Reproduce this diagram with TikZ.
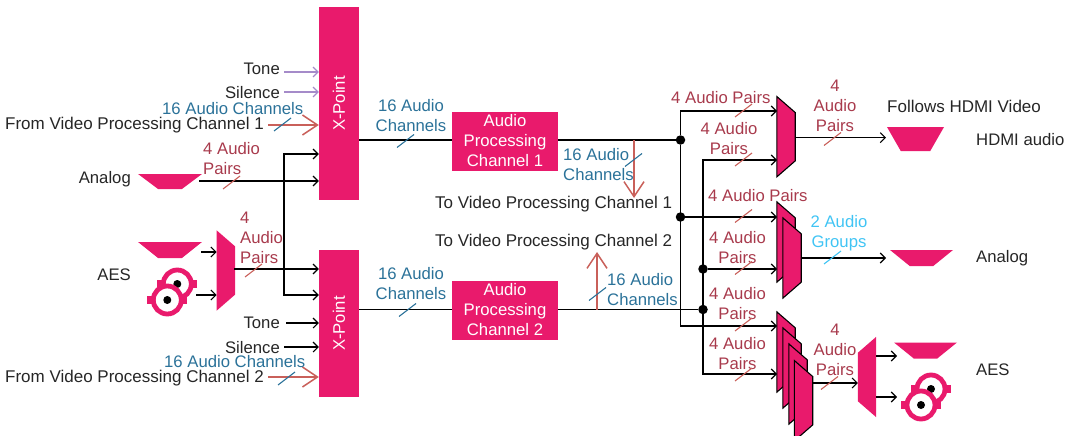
\documentclass[tikz,border=0pt]{standalone}
\usepackage{fontspec}
\setmainfont{Liberation Sans}
\usetikzlibrary{arrows.meta,shapes.geometric,positioning}
\definecolor{muxpink}{HTML}{E91A6C}
\definecolor{pairred}{HTML}{A83A4C}
\definecolor{slashred}{HTML}{C9605A}
\definecolor{chanblue}{HTML}{2B7299}
\definecolor{groupcyan}{HTML}{40C4F4}
\definecolor{tonepurple}{HTML}{A58BC9}
\tikzset{
  every node/.style={font=\fontsize{16.7}{20}\selectfont, text=black!85, inner sep=0pt},
  longlabel/.style={font=\fontsize{17}{20}\selectfont},
  xpointbox/.style={fill=muxpink, text=white, minimum width=40},
  procbox/.style={fill=muxpink, text=white, minimum width=106, minimum height=59, align=center},
  muxbox/.style={minimum width=18, minimum height=80},
  jackshape/.style={fill=muxpink, trapezium, shape border rotate=180, trapezium stretches=true, inner sep=1pt},
  dotmark/.style={circle, fill=black, minimum size=9.5},
  redlabel/.style={text=pairred, align=left},
  bluelabel/.style={text=chanblue, align=left},
  wirearrow/.style={draw=black, line width=1.1pt, -{Straight Barb[length=5pt,width=10pt]}},
  purplearrow/.style={draw=tonepurple, line width=1.1pt, -{Straight Barb[length=5pt,width=10pt]}},
  redarrow/.style={draw=slashred, line width=1.5pt, -{Straight Barb[length=15pt,width=20pt]}},
  pics/xlrhalf/.style={code={
    \fill[muxpink] (-20,-4) rectangle (20,4);
    \filldraw[draw=muxpink, fill=white, line width=4.8pt] (0,0) circle (14);
    \fill[black] (0,0) circle (4);
  }},
  pics/xlrpair/.style={code={
    \pic at (5,-8) {xlrhalf};
    \pic at (-5,8) {xlrhalf};
  }}
}
\newcommand{\muxshape}[1]{\filldraw[draw=black, fill=muxpink, line width=1.1pt] (#1.north west) -- ([yshift=-16]#1.north east) -- ([yshift=16]#1.south east) -- (#1.south west) -- cycle;}
\newcommand{\slashmark}[2]{\draw[#1, line width=1.1pt] (#2) +(-8.5,6.5) -- +(8.5,-6.5);}
\begin{document}
\begin{tikzpicture}[x=1pt, y=-1pt]
  \clip (0,0) rectangle (1066,436);
  % x-points and processing
  \node[xpointbox, minimum height=193] (xpa) at (339,103.5) {\rotatebox{90}{X-Point}};
  \node[xpointbox, minimum height=147] (xpb) at (339,323.5) {\rotatebox{90}{X-Point}};
  \node[procbox] (proca) at (505,141) {Audio\\Processing\\Channel 1};
  \node[procbox] (procb) at (505,310) {Audio\\Processing\\Channel 2};
  % source labels
  \node[anchor=east] (tonea) at (280,69.2) {Tone};
  \node[anchor=east] (silencea) at (280,92.2) {Silence};
  \node[longlabel, anchor=west] (froma) at (5,125.2) {From Video Processing Channel 1};
  \node[anchor=east] (analogin) at (131,179.2) {Analog};
  \node[anchor=east] (aesin) at (131,275.2) {AES};
  \node[anchor=east] (toneb) at (280,323.2) {Tone};
  \node[anchor=east] (silenceb) at (280,347.2) {Silence};
  \node[longlabel, anchor=west] (fromb) at (5,378.2) {From Video Processing Channel 2};
  \node[longlabel, anchor=west] (tovida) at (435,204.2) {To Video Processing Channel 1};
  \node[longlabel, anchor=west] (tovidb) at (435,242.2) {To Video Processing Channel 2};
  \node[longlabel, anchor=west] (follows) at (887,106.2) {Follows HDMI Video};
  \node[anchor=west] (hdmiout) at (976,139.2) {HDMI audio};
  \node[anchor=west] (analogout) at (976,258.2) {Analog};
  \node[anchor=west] (aesout) at (976,370.2) {AES};
  % connector shapes
  \node[jackshape, minimum width=64, minimum height=15, trapezium angle=50] (jackana) at (170,181.5) {};
  \node[jackshape, minimum width=64, minimum height=16, trapezium angle=50] (jackaes) at (170,250) {};
  \node[jackshape, minimum width=57, minimum height=24, trapezium angle=65] (jackhdmi) at (915.5,139) {};
  \node[jackshape, minimum width=63, minimum height=16, trapezium angle=50] (jackanb) at (921.5,258) {};
  \node[jackshape, minimum width=63, minimum height=16, trapezium angle=50] (jackaesb) at (925.5,350.5) {};
  \pic at (172.3,292) {xlrpair};
  \pic at (926,397) {xlrpair};
  % muxes
  \node[muxbox] (muxhdmi) at (786,136.7) {};
  \node[muxbox] (muxana) at (786,242) {};
  \node[muxbox] (muxanb) at (792,258) {};
  \node[muxbox] (muxaesa) at (786,352) {};
  \node[muxbox] (muxaesb) at (792,368) {};
  \node[muxbox] (muxaesc) at (798,384) {};
  \node[muxbox] (muxaesd) at (803.5,400.7) {};
  \muxshape{muxhdmi}
  \muxshape{muxana}
  \muxshape{muxanb}
  \muxshape{muxaesa}
  \muxshape{muxaesb}
  \muxshape{muxaesc}
  \muxshape{muxaesd}
  \node[muxbox] (muxin) at (225.8,270.5) {};
  \fill[muxpink] (muxin.north west) -- ([yshift=-16]muxin.north east) -- ([yshift=16]muxin.south east) -- (muxin.south west) -- cycle;
  \node[muxbox] (muxout) at (867,377) {};
  \fill[muxpink] (muxout.north east) -- ([yshift=-16]muxout.north west) -- ([yshift=16]muxout.south west) -- (muxout.south east) -- cycle;
  % junctions
  \node[dotmark] (busa) at (680.5,140) {};
  \node[dotmark] (busc) at (680.5,217) {};
  \node[dotmark] (busd) at (703,269) {};
  \node[dotmark] (buse) at (703,309.5) {};
  % free ends
  \coordinate (tonestarta) at (284,72);
  \coordinate (silstarta) at (284,92);
  \coordinate (fromstarta) at (268,125);
  \coordinate (tonestartb) at (286,323);
  \coordinate (silstartb) at (284,347);
  \coordinate (fromstartb) at (268,377);
  \coordinate (bustopin) at (284,154);
  \coordinate (busbotin) at (284,295);
  \coordinate (anastart) at (199,181);
  \coordinate (aesmuxout) at (234,269);
  \coordinate (jackaesout) at (201,252);
  \coordinate (xlrout) at (196,295);
  \coordinate (downtip) at (634,198);
  \coordinate (uptip) at (597,252);
  \coordinate (hdmiina) at (777,111);
  \coordinate (hdmiinb) at (777,160);
  \coordinate (anaina) at (777,217);
  \coordinate (anainb) at (777,269);
  \coordinate (aesina) at (777,326);
  \coordinate (aesinb) at (777,374);
  \coordinate (hdmitip) at (886,137.7);
  \coordinate (anatip) at (886,258);
  \coordinate (aesmid) at (812,383);
  \coordinate (aesjack) at (897,356);
  \coordinate (aesxlr) at (897,397);
  % left wires
  \draw[purplearrow] (tonestarta) -- (xpa.west |- tonestarta);
  \draw[purplearrow] (silstarta) -- (xpa.west |- silstarta);
  \draw[redarrow] (fromstarta) -- (xpa.west |- fromstarta);
  \draw[wirearrow] (anastart) -- (xpa.west |- anastart);
  \draw[wirearrow, {Straight Barb[length=5pt,width=10pt]}-{Straight Barb[length=5pt,width=10pt]}] (xpa.west |- bustopin) -- (bustopin) -- (busbotin) -- (xpb.west |- busbotin);
  \draw[wirearrow] (aesmuxout) -- (xpb.west |- aesmuxout);
  \draw[wirearrow] (jackaesout) -- (muxin.west |- jackaesout);
  \draw[wirearrow] (xlrout) -- (muxin.west |- xlrout);
  \draw[wirearrow] (tonestartb) -- (xpb.west |- tonestartb);
  \draw[wirearrow] (silstartb) -- (xpb.west |- silstartb);
  \draw[redarrow] (fromstartb) -- (xpb.west |- fromstartb);
  % middle wires
  \draw[draw=black, line width=1.1pt] (xpa.east |- busa) -- (proca.west |- busa);
  \draw[draw=black, line width=1.1pt] (xpb.east |- buse) -- (procb.west |- buse);
  \draw[draw=black, line width=1.1pt] (proca.east |- busa) -- (busa);
  \draw[draw=black, line width=1.1pt] (procb.east |- buse) -- (buse);
  \draw[redarrow] (downtip |- busa) -- (downtip);
  \draw[redarrow] (uptip |- buse) -- (uptip);
  % right wires
  \draw[wirearrow] (busa) |- (hdmiina);
  \draw[wirearrow] (busa) |- (aesina);
  \draw[wirearrow] (busc) -- (anaina);
  \draw[wirearrow] (buse) |- (hdmiinb);
  \draw[wirearrow] (buse) |- (aesinb);
  \draw[wirearrow] (busd) -- (anainb);
  \draw[wirearrow] (muxhdmi.east |- hdmitip) -- (hdmitip);
  \draw[wirearrow] (muxanb.east |- anatip) -- (anatip);
  \draw[wirearrow] (aesmid) -- (muxout.west |- aesmid);
  \draw[wirearrow] (muxout.east |- aesjack) -- (aesjack);
  \draw[wirearrow] (muxout.east |- aesxlr) -- (aesxlr);
  % channel labels
  \node[bluelabel, anchor=west] (chanina) at (162,108.8) {16 Audio Channels};
  \node[bluelabel, anchor=west] (chaninb) at (164,361.8) {16 Audio Channels};
  \node[bluelabel, align=center] (chanxa) at (411,115.2) {16 Audio\\Channels};
  \node[bluelabel, align=center] (chanxb) at (411,283.2) {16 Audio\\Channels};
  \node[bluelabel, anchor=west] (chanouta) at (563,164.7) {16 Audio\\Channels};
  \node[bluelabel, anchor=west] (chanoutb) at (607,289.7) {16 Audio\\Channels};
  \node[text=groupcyan, align=center] (groups) at (839,232.7) {2 Audio\\Groups};
  % pair labels
  \node[redlabel, anchor=west] (pairana) at (203,158.4) {4 Audio\\Pairs};
  \node[redlabel, anchor=west] (pairaes) at (240,237.4) {4\\Audio\\Pairs};
  \node[redlabel, anchor=west] (pairhdmia) at (671,97.4) {4 Audio Pairs};
  \node[redlabel, align=center] (pairhdmib) at (729,138.9) {4 Audio\\Pairs};
  \node[redlabel, anchor=west] (pairanaa) at (708,195.4) {4 Audio Pairs};
  \node[redlabel, align=center] (pairanab) at (737.5,247.4) {4 Audio\\Pairs};
  \node[redlabel, align=center] (pairaesa) at (737.5,303.4) {4 Audio\\Pairs};
  \node[redlabel, align=center] (pairaesb) at (737.5,353.4) {4 Audio\\Pairs};
  \node[redlabel, align=center] (pairhdmiout) at (835,105.9) {4\\Audio\\Pairs};
  \node[redlabel, align=center] (pairaesout) at (835,349.9) {4\\Audio\\Pairs};
  % bus slashes
  \slashmark{chanblue}{282.5,124.5}
  \slashmark{chanblue}{286.5,378.5}
  \slashmark{chanblue}{405.5,141}
  \slashmark{chanblue}{407.5,310}
  \slashmark{chanblue}{633.5,160}
  \slashmark{chanblue}{597.5,294}
  \slashmark{groupcyan}{832.5,257.5}
  \slashmark{slashred}{231.5,182.5}
  \slashmark{slashred}{253.5,270.5}
  \slashmark{slashred}{743.5,110.5}
  \slashmark{slashred}{743.5,159.5}
  \slashmark{slashred}{743.5,216}
  \slashmark{slashred}{743.5,268}
  \slashmark{slashred}{743.5,324.5}
  \slashmark{slashred}{743.5,374.5}
  \slashmark{slashred}{832.5,139}
  \slashmark{slashred}{829.5,383}
\end{tikzpicture}
\end{document}
